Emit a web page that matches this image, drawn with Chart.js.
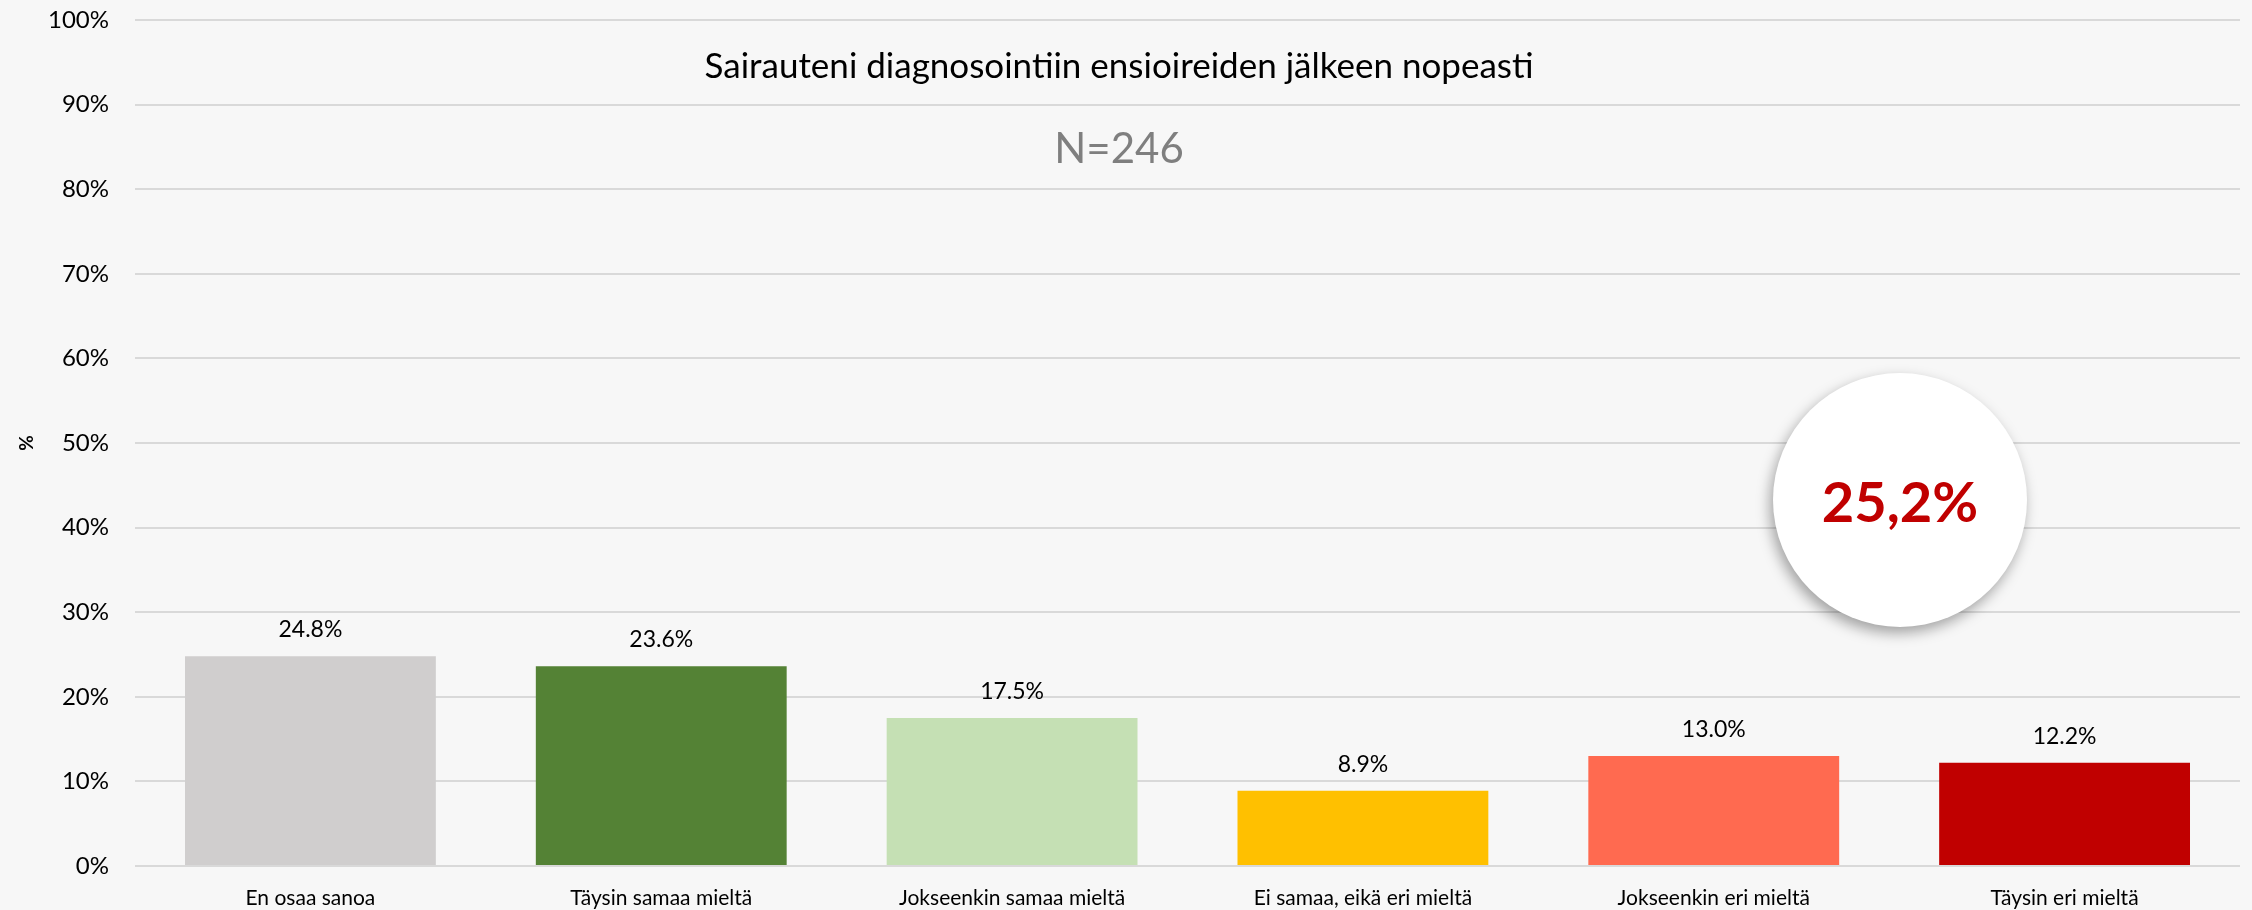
<!DOCTYPE html>
<html><head><meta charset="utf-8">
<script src="https://cdn.jsdelivr.net/npm/chart.js@4.4.1/dist/chart.umd.min.js"></script>
<style>html,body{margin:0;padding:0;background:#F7F7F7;overflow:hidden;}#wrap{width:2252px;height:910px;}</style>
</head><body><div id="wrap"><canvas id="c" width="2252" height="910"></canvas></div>
<script>
const categories = ["En osaa sanoa", "Täysin samaa mieltä", "Jokseenkin samaa mieltä", "Ei samaa, eikä eri mieltä", "Jokseenkin eri mieltä", "Täysin eri mieltä"];
const values = [24.8, 23.6, 17.5, 8.9, 13.0, 12.2];
const barColors = ["#D0CECE", "#548235", "#C5E0B4", "#FFC000", "#FF6A50", "#C00000"];
const yTickValues = [0, 10, 20, 30, 40, 50, 60, 70, 80, 90, 100];
const yAxisTitle = "%";
const chartTitle = "Sairauteni diagnosointiin ensioireiden jälkeen nopeasti";
const sampleSize = "N=246";
const highlightText = "25,2%";

const FONT = "Lato, 'Open Sans', sans-serif";

const bgPlugin = {
  id: 'bg',
  beforeDraw(chart) {
    const ctx = chart.ctx;
    ctx.save();
    ctx.fillStyle = '#F7F7F7';
    ctx.fillRect(0, 0, chart.width, chart.height);
    ctx.restore();
  }
};

const labelPlugin = {
  id: 'barLabels',
  afterDatasetsDraw(chart) {
    const ctx = chart.ctx;
    const meta = chart.getDatasetMeta(0);
    ctx.save();
    ctx.font = "23px " + FONT;
    ctx.fillStyle = '#000000';
    ctx.textAlign = 'center';
    ctx.textBaseline = 'alphabetic';
    meta.data.forEach((bar, i) => {
      ctx.fillText(values[i].toFixed(1) + '%', bar.x, bar.y - 19);
    });
    ctx.restore();
  }
};

const overlayPlugin = {
  id: 'overlay',
  afterDraw(chart) {
    const ctx = chart.ctx;
    ctx.save();
    ctx.textAlign = 'center';
    ctx.textBaseline = 'alphabetic';
    ctx.fillStyle = '#000000';
    ctx.font = "35px " + FONT;
    ctx.fillText(chartTitle, 1119, 78);
    ctx.fillStyle = '#7F7F7F';
    ctx.font = "42px " + FONT;
    ctx.fillText(sampleSize, 1119, 163);
    // highlight circle
    ctx.save();
    ctx.shadowColor = 'rgba(0,0,0,0.35)';
    ctx.shadowBlur = 14;
    ctx.shadowOffsetX = -3;
    ctx.shadowOffsetY = 6;
    ctx.beginPath();
    ctx.arc(1900, 500, 127, 0, Math.PI * 2);
    ctx.fillStyle = '#FFFFFF';
    ctx.fill();
    ctx.restore();
    ctx.fillStyle = '#C00000';
    ctx.font = "bold 56px " + FONT;
    ctx.fillText(highlightText, 1900, 522);
    ctx.restore();
  }
};

new Chart(document.getElementById('c'), {
  type: 'bar',
  data: {
    labels: categories,
    datasets: [{
      data: values,
      backgroundColor: barColors,
      borderWidth: 0,
      categoryPercentage: 1.0,
      barPercentage: 0.715
    }]
  },
  options: {
    responsive: false,
    animation: false,
    devicePixelRatio: 1,
    layout: { padding: { top: 20, right: 12, left: 0, bottom: 0 } },
    plugins: {
      legend: { display: false },
      tooltip: { enabled: false },
      title: { display: false }
    },
    scales: {
      x: {
        grid: { display: false, drawTicks: false },
        border: { display: false },
        ticks: { color: '#000000', font: { family: FONT, size: 21 }, padding: 20, maxRotation: 0 },
        afterFit(s) { s.height = 44; s.paddingTop = 0; s.paddingBottom = 0; }
      },
      y: {
        min: 0, max: 100,
        afterBuildTicks(s) { s.ticks = yTickValues.map(v => ({ value: v })); },
        grid: { color: '#D9D9D9', lineWidth: 2, drawTicks: false },
        border: { display: false },
        ticks: { color: '#000000', font: { family: FONT, size: 24 }, padding: 26, callback: v => v + '%' },
        title: { display: true, text: yAxisTitle, color: '#000000', font: { family: FONT, size: 19, weight: 'bold' }, padding: { top: 15, bottom: 0 } },
        afterFit(s) { s.width = 135; s.paddingTop = 0; s.paddingBottom = 0; }
      }
    }
  },
  plugins: [bgPlugin, labelPlugin, overlayPlugin]
});
</script>
</body></html>
